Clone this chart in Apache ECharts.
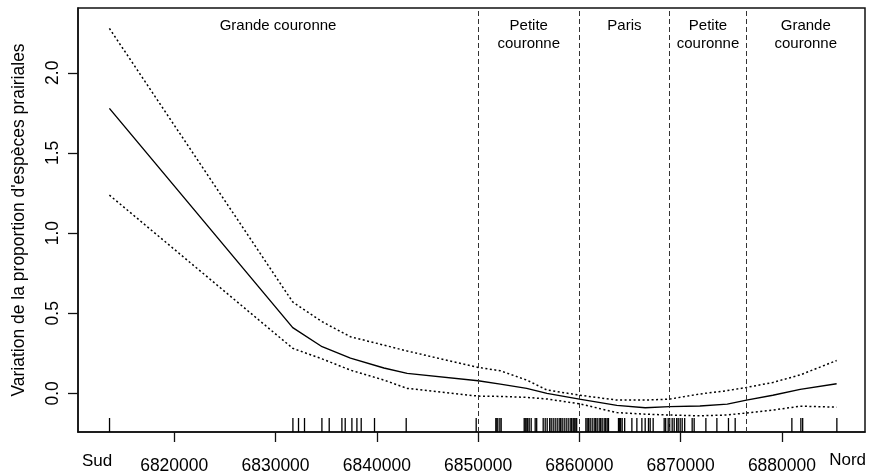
<!DOCTYPE html>
<html>
<head>
<meta charset="utf-8">
<script src="https://cdn.jsdelivr.net/npm/echarts@6/dist/echarts.min.js"></script>
<style>
  html, body { margin: 0; padding: 0; background: #fff; }
  #chart { width: 870px; height: 475px; }
</style>
</head>
<body>
<div id="chart"></div>
<script>
// Northing (Lambert 93, m) at which the smooth is evaluated
const position = [6813600, 6831700, 6834600, 6837400, 6840700, 6843000, 6850000, 6852200,
  6854800, 6856800, 6860000, 6863700, 6866500, 6868900, 6871900, 6874600, 6876500,
  6879100, 6881800, 6885400];
// Fitted effect and its confidence band
const fit = [1.778, 0.41, 0.291, 0.22, 0.158, 0.125, 0.079, 0.058, 0.031, 0.0, -0.036,
  -0.075, -0.09, -0.083, -0.079, -0.067, -0.042, -0.012, 0.025, 0.06];
const upper = [2.277, 0.57, 0.447, 0.353, 0.301, 0.264, 0.162, 0.141, 0.083, 0.021, -0.011,
  -0.042, -0.042, -0.036, -0.004, 0.017, 0.037, 0.068, 0.115, 0.205];
const lower = [1.237, 0.281, 0.215, 0.145, 0.083, 0.031, -0.017, -0.019, -0.025, -0.035, -0.065,
  -0.12, -0.13, -0.135, -0.14, -0.135, -0.122, -0.104, -0.08, -0.086];

// Northing of each sampled site (rug)
const sites = [6813613, 6831718, 6832271, 6832863, 6834581, 6835302, 6836555, 6836881,
  6837542, 6838036, 6838461, 6839774, 6842903, 6849813,
  6851750, 6851850, 6851950, 6852150, 6852280,
  6854552, 6854651, 6854750, 6854898, 6855046, 6855243, 6855638, 6855786,
  6856428, 6856626, 6856823, 6857070, 6857217, 6857415, 6857612, 6857810, 6858007,
  6858155, 6858303, 6858501, 6858698, 6858895, 6859093, 6859241, 6859389, 6859488,
  6859587, 6859735,
  6860643, 6860771, 6860919, 6861068, 6861265, 6861462, 6861610, 6861759, 6861956,
  6862104, 6862252, 6862450, 6862598, 6862746, 6862875,
  6863861, 6863980, 6864078, 6864226, 6864473,
  6865184, 6865677, 6866171, 6866497, 6866823, 6866991, 6867286,
  6868373, 6868521, 6868768, 6868916, 6869163, 6869361, 6869608, 6869756, 6869953,
  6870150, 6870397,
  6871137, 6871334, 6872490, 6873576, 6874721, 6875383,
  6880980, 6881868, 6882047, 6885422];

// Limits between zones and their names (south to north)
const boundaries = [6850000, 6860000, 6868900, 6876500];
const zoneNames = ['Grande couronne', 'Petite\ncouronne', 'Paris', 'Petite\ncouronne', 'Grande\ncouronne'];

const xTicks = [6820000, 6830000, 6840000, 6850000, 6860000, 6870000, 6880000];
const yTicks = [0, 0.5, 1, 1.5, 2];

const xMin = 6810500, xMax = 6888200;
const yMin = -0.241, yMax = 2.404;

const FONT = 'Liberation Sans, Arial, sans-serif';
const pair = (xs, ys) => xs.map((x, i) => [x, ys[i]]);

const edges = [xMin].concat(boundaries, [xMax]);
const zoneCenters = zoneNames.map((n, i) => [(edges[i] + edges[i + 1]) / 2, i]);

const chart = echarts.init(document.getElementById('chart'));
chart.setOption({
  animation: false,
  backgroundColor: '#fff',
  grid: {
    left: 78, right: 5, top: 8, bottom: 43,
    outerBoundsMode: 'none', containLabel: false,
    show: true, borderColor: '#111', borderWidth: 1.5, backgroundColor: 'transparent'
  },
  xAxis: {
    type: 'value', min: xMin, max: xMax,
    axisLine: { show: true, onZero: false, lineStyle: { color: '#111', width: 1.5 } },
    axisTick: { show: true, customValues: xTicks, length: 10, inside: false,
      lineStyle: { color: '#111', width: 1.3 } },
    axisLabel: { customValues: xTicks, margin: 25, color: '#000', fontSize: 17.5,
      fontFamily: FONT, formatter: v => String(Math.round(v)) },
    splitLine: { show: false }
  },
  yAxis: {
    type: 'value', min: yMin, max: yMax,
    name: "Variation de la proportion d'espèces prairiales",
    nameLocation: 'middle', nameRotate: 90, nameGap: 50,
    nameTextStyle: { color: '#000', fontSize: 17.5, fontFamily: FONT },
    axisLine: { show: true, onZero: false, lineStyle: { color: '#111', width: 1.5 } },
    axisTick: { show: true, customValues: yTicks, length: 10,
      lineStyle: { color: '#111', width: 1.3 } },
    axisLabel: { customValues: yTicks, rotate: 90, margin: 16, color: '#000', fontSize: 17.5,
      fontFamily: FONT, formatter: v => v.toFixed(1) },
    splitLine: { show: false }
  },
  graphic: [
    { type: 'text', left: 82, top: 453,
      style: { text: 'Sud', fontSize: 17, fontFamily: FONT, fill: '#000' } },
    { type: 'text', right: 4, top: 452,
      style: { text: 'Nord', fontSize: 17, fontFamily: FONT, fill: '#000' } }
  ],
  series: [
    {
      type: 'line', data: pair(position, fit), showSymbol: false, silent: true,
      lineStyle: { color: '#000', width: 1.4 },
      markLine: {
        silent: true, symbol: 'none', label: { show: false },
        lineStyle: { color: '#333', width: 1, type: [5, 3] },
        data: boundaries.map(v => ({ xAxis: v }))
      },
      z: 3
    },
    {
      type: 'line', data: pair(position, upper), showSymbol: false, silent: true,
      lineStyle: { color: '#000', width: 1.5, type: [2, 2.5] }, z: 3
    },
    {
      type: 'line', data: pair(position, lower), showSymbol: false, silent: true,
      lineStyle: { color: '#000', width: 1.5, type: [2, 2.5] }, z: 3
    },
    {
      // rug of sampled sites along the bottom axis
      type: 'custom', silent: true, data: sites.map(s => [s]),
      renderItem: (params, api) => {
        const p = api.coord([api.value(0), yMin]);
        return { type: 'line', shape: { x1: p[0], y1: p[1], x2: p[0], y2: p[1] - 14 },
          style: { stroke: '#000', lineWidth: 1.3 } };
      },
      z: 2
    },
    {
      // zone names at the top of each band
      type: 'custom', silent: true, data: zoneCenters,
      renderItem: (params, api) => {
        const p = api.coord([api.value(0), yMax]);
        return { type: 'text', x: p[0], y: p[1] + 9,
          style: { text: zoneNames[api.value(1)], fontSize: 15, fontFamily: FONT, fill: '#000',
            align: 'center', verticalAlign: 'top', lineHeight: 18 } };
      },
      z: 4
    }
  ]
});
</script>
</body>
</html>
